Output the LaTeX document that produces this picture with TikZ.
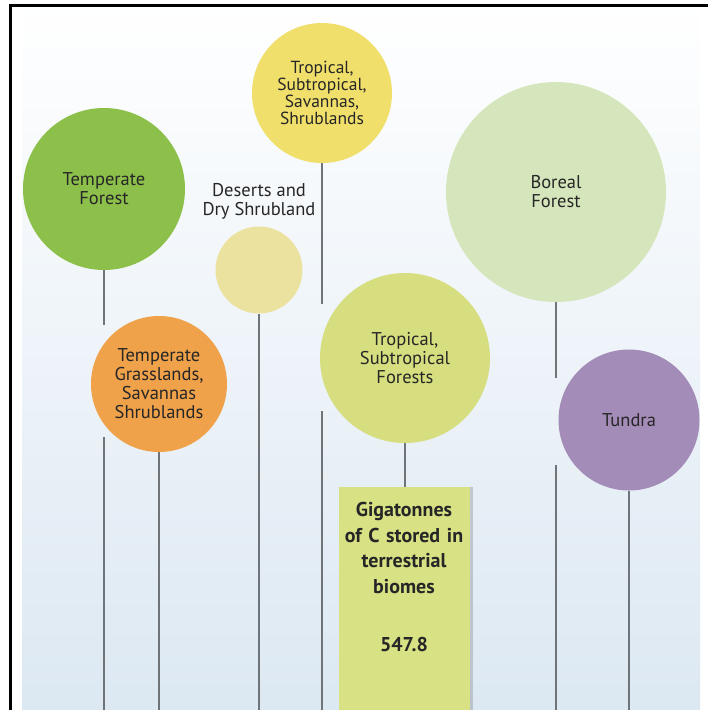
\documentclass[tikz,border=0pt]{standalone}
\usepackage{fontspec}
\setmainfont{PT Sans}
\usetikzlibrary{positioning}
\usetikzlibrary{shadows}
\pgfdeclarelayer{bg}
\pgfdeclarelayer{stems}
\pgfsetlayers{bg,stems,main}
\definecolor{tempforest}{HTML}{8DC04B}
\definecolor{tempgrass}{HTML}{EFA24A}
\definecolor{desert}{HTML}{ECE29F}
\definecolor{tropsav}{HTML}{F0DF6B}
\definecolor{tropfor}{HTML}{D6DE7F}
\definecolor{boreal}{HTML}{D5E6BC}
\definecolor{tundra}{HTML}{A48CB8}
\definecolor{storefill}{HTML}{D8E184}
\definecolor{stemgray}{HTML}{6F7478}
\definecolor{bgblue}{HTML}{DCE8F2}
\tikzset{biometext/.style = {align=center, text=black!85, font=\fontsize{18.5}{19}\selectfont},
         biome/.style = {circle, inner sep=0pt, biometext},
         stem/.style = {draw=stemgray, line width=2pt},
         store/.style = {fill=storefill, align=center, text width=131pt, inner xsep=0pt,
                         inner ysep=15pt, text=black!85, font=\bfseries\fontsize{20}{25.7}\selectfont,
                         drop shadow={shadow xshift=3pt, shadow yshift=0pt, opacity=.35}}}

\begin{document}
\begin{tikzpicture}[x=1pt, y=-1pt]
    \useasboundingbox (0,0) rectangle (708,710);
    \clip (0,0) rectangle (708,710);
    \coordinate (bottom) at (0,712);

    \node[biome, fill=tempforest, minimum size=162] (tf) at (104,189) {Temperate\\Forest};
    \node[biome, fill=tempgrass, minimum size=136] (tg) at (159,384) {Temperate\\Grasslands,\\Savannas\\Shrublands};
    \node[biome, fill=desert, minimum size=87,
          label={[biometext, label distance=3pt]above:Deserts and\\Dry Shrubland}] (ds) at (259,270) {};
    \node[biome, fill=tropsav, minimum size=140, font=\fontsize{17.5}{17}\selectfont] (ts) at (322,93) {Tropical,\\Subtropical,\\Savannas,\\Shrublands};
    \node[biome, fill=tropfor, minimum size=170] (trf) at (405,358) {Tropical,\\Subtropical\\Forests};
    \node[biome, fill=boreal, minimum size=220] (bf) at (556,192) {Boreal\\Forest};
    \node[biome, fill=tundra, minimum size=141] (tu) at (629,420) {Tundra};
    \node[store, anchor=north] (gt) at (404,487) {Gigatonnes\\of C stored in\\terrestrial\\biomes\\[32pt]547.8\\[60pt]~};

    \begin{pgfonlayer}{bg}
      \fill[top color=white, bottom color=bgblue] (22,0) rectangle (700,712);
    \end{pgfonlayer}
    \begin{pgfonlayer}{stems}
      \foreach \n/\a/\b in {tf/325/437, ts/304/411, bf/378/465} {
        \draw[stem] (\n) -- (\n |- 0,\a) (\n |- 0,\b) -- (\n |- bottom);
      }
      \foreach \n in {tg, ds, tu} {
        \draw[stem] (\n) -- (\n |- bottom);
      }
      \draw[stem] (trf) -- (trf |- gt.north);
    \end{pgfonlayer}

    \draw[line width=3pt] (10,712) -- (10,5) -- (712,5);
  \end{tikzpicture}
\end{document}
